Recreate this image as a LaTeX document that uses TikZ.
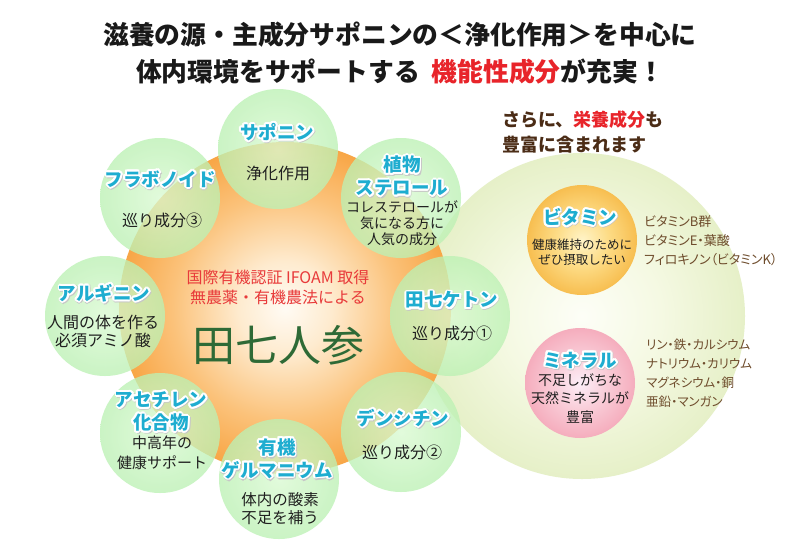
\documentclass[tikz,border=0pt]{standalone}
\usepackage{fontspec}
\setmainfont{Noto Sans CJK JP}
\newfontfamily\jpp{Noto Sans CJK JP}[RawFeature=+palt]
\usetikzlibrary{calc}
\definecolor{orA}{HTML}{FFFBF4}
\definecolor{orB}{HTML}{FEEBCF}
\definecolor{orC}{HTML}{FBC27A}
\definecolor{orD}{HTML}{F8A646}
\definecolor{pgA}{HTML}{FDFEF7}
\definecolor{pgB}{HTML}{F5F9E3}
\definecolor{pgC}{HTML}{E6F0C8}
\definecolor{grA}{HTML}{DAFAD2}
\definecolor{grB}{HTML}{BCF1B4}
\definecolor{viA}{HTML}{FFF4C8}
\definecolor{viB}{HTML}{FDDC86}
\definecolor{viC}{HTML}{F7BE50}
\definecolor{miA}{HTML}{FCEEF8}
\definecolor{miB}{HTML}{F9CDD8}
\definecolor{miC}{HTML}{F5ADBD}
\definecolor{ttlc}{HTML}{1EADD0}
\definecolor{redc}{HTML}{E8242A}
\definecolor{redm}{HTML}{E83A3A}
\definecolor{grn}{HTML}{2E6A36}
\definecolor{brA}{HTML}{4B2C16}
\definecolor{brB}{HTML}{6E4C2C}
\pgfdeclareradialshading{orsh}{\pgfpoint{0bp}{0bp}}{color(0bp)=(orA); color(7bp)=(orB); color(17bp)=(orC); color(25bp)=(orD); color(50bp)=(orD)}
\pgfdeclareradialshading{pgsh}{\pgfpoint{0bp}{0bp}}{color(0bp)=(pgA); color(12bp)=(pgB); color(25bp)=(pgC); color(50bp)=(pgC)}
\pgfdeclareradialshading{grsh}{\pgfpoint{0bp}{0bp}}{color(0bp)=(grA); color(25bp)=(grB); color(50bp)=(grB)}
\pgfdeclareradialshading{vish}{\pgfpoint{0bp}{0bp}}{color(0bp)=(viA); color(12bp)=(viB); color(25bp)=(viC); color(50bp)=(viC)}
\pgfdeclareradialshading{mish}{\pgfpoint{0bp}{0bp}}{color(0bp)=(miA); color(12bp)=(miB); color(25bp)=(miC); color(50bp)=(miC)}
\tikzset{
  ttl/.style={font=\fontsize{18.5}{23}\selectfont\bfseries, text=ttlc, align=center, inner sep=0pt},
  halo/.style={ttl, text=white},
  shad/.style={ttl, text=black!22},
  body/.style={font=\fontsize{16}{18}\selectfont, text=black!88, align=center, inner sep=0pt},
  ringc/.style={shading=grsh, fill opacity=0.78},
}
\newcommand\cttl[3]{%
  \foreach \a in {0,45,...,315}{\node[shad] at ($(#2)+(\a:2)+(0.8,0.9)$) {#3};}%
  \foreach \a in {0,22.5,...,337.5}{\node[halo] at ($(#2)+(\a:1.8)$) {#3};}%
  \node[ttl] (#1) at (#2) {#3};}
\begin{document}
\begin{tikzpicture}[x=1pt,y=-1pt]
\useasboundingbox (0,0) rectangle (800,550);
\fill[white] (0,0) rectangle (800,550);
% centres
\coordinate (pale) at (582,316);
\coordinate (orc) at (285,308);
\coordinate (c1) at (278,149);
\coordinate (c2) at (401,198);
\coordinate (c3) at (450,316);
\coordinate (c4) at (401,432);
\coordinate (c5) at (279,479);
\coordinate (c6) at (160,433);
\coordinate (c7) at (105,316);
\coordinate (c8) at (160,198);
\coordinate (vit) at (582,240);
\coordinate (min) at (580,383);
% backgrounds
\shade[shading=pgsh] (pale) circle[radius=163pt];
\shade[shading=orsh] (orc) circle[radius=166pt];
\foreach \c in {c1,c2,c3,c4,c5,c6,c7,c8}{\shade[ringc] (\c) circle[radius=60pt];}
\shade[shading=vish] (vit) circle[radius=55pt];
\shade[shading=mish] (min) circle[radius=55pt];
% title
\node[font=\fontsize{25.8}{37}\selectfont\bfseries, text=black!90, align=center, inner sep=0pt] (title) at (400,53.5)
  {滋養の源・主成分サポニンの＜浄化作用＞を中心に\\体内環境をサポートする\hspace{0.45em}\textcolor{redc}{機能性成分}が充実！};
% centre
\node[font=\fontsize{16}{20}\selectfont, text=redm, align=center, inner sep=0pt] (org) at (278,287)
  {国際有機認証 IFOAM 取得\\無農薬・有機農法による};
\node[font=\fontsize{43}{43}\selectfont, text=grn, inner sep=0pt] (name) at (278,345) {田七人参};
% ring titles
\cttl{t1}{277,132}{サポニン}
\node[body] (b1) at (278,173) {浄化作用};
\cttl{t2}{402,176}{植物\\ステロール}
\node[body, font=\fontsize{14}{16}\selectfont] (b2) at (402,223) {コレステロールが\\気になる方に\\人気の成分};
\cttl{t3}{452,300}{田七ケトン}
\node[body] (b3) at (452,333) {巡り成分①};
\cttl{t4}{403,418}{デンシチン}
\node[body] (b4) at (402,452) {巡り成分②};
\cttl{t5}{277,458.5}{有機\\ゲルマニウム}
\node[body, font=\fontsize{15.5}{17.5}\selectfont] (b5) at (280,508.5) {体内の酸素\\不足を補う};
\cttl{t6}{161,411.5}{アセチレン\\化合物}
\node[body, font=\fontsize{15}{20}\selectfont] (b6) at (162,453) {中高年の\\健康サポート};
\cttl{t7}{104,293}{アルギニン}
\node[body] (b7) at (103,331) {人間の体を作る\\必須アミノ酸};
\cttl{t8}{160,179}{フラボノイド}
\node[body] (b8) at (162,220) {巡り成分③};
% right side
\node[anchor=west, align=left, inner sep=0pt, font=\fontsize{18}{25}\selectfont\bfseries, text=brA] (more) at (502,132.5)
  {さらに、\textcolor{redc}{栄養成分}も\\豊富に含まれます};
\cttl{t9}{580,217}{ビタミン}
\node[body, font=\fontsize{12.5}{15}\selectfont] (b9) at (582,252.5) {健康維持のために\\ぜひ摂取したい};
\cttl{t10}{580,360}{ミネラル}
\node[body, font=\fontsize{14}{18.5}\selectfont] (b10) at (580,398.5) {不足しがちな\\天然ミネラルが\\豊富};
\node[anchor=west, align=left, inner sep=0pt, font=\jpp\fontsize{13}{19}\selectfont, text=brB] (vlist) at (644,241)
  {ビタミンB群\\ビタミンE・葉酸\\フィロキノン（ビタミンK）};
\node[anchor=west, align=left, inner sep=0pt, font=\jpp\fontsize{12.5}{19}\selectfont, text=brB] (mlist) at (646,373.5)
  {リン・鉄・カルシウム\\ナトリウム・カリウム\\マグネシウム・銅\\亜鉛・マンガン};
\end{tikzpicture}
\end{document}
